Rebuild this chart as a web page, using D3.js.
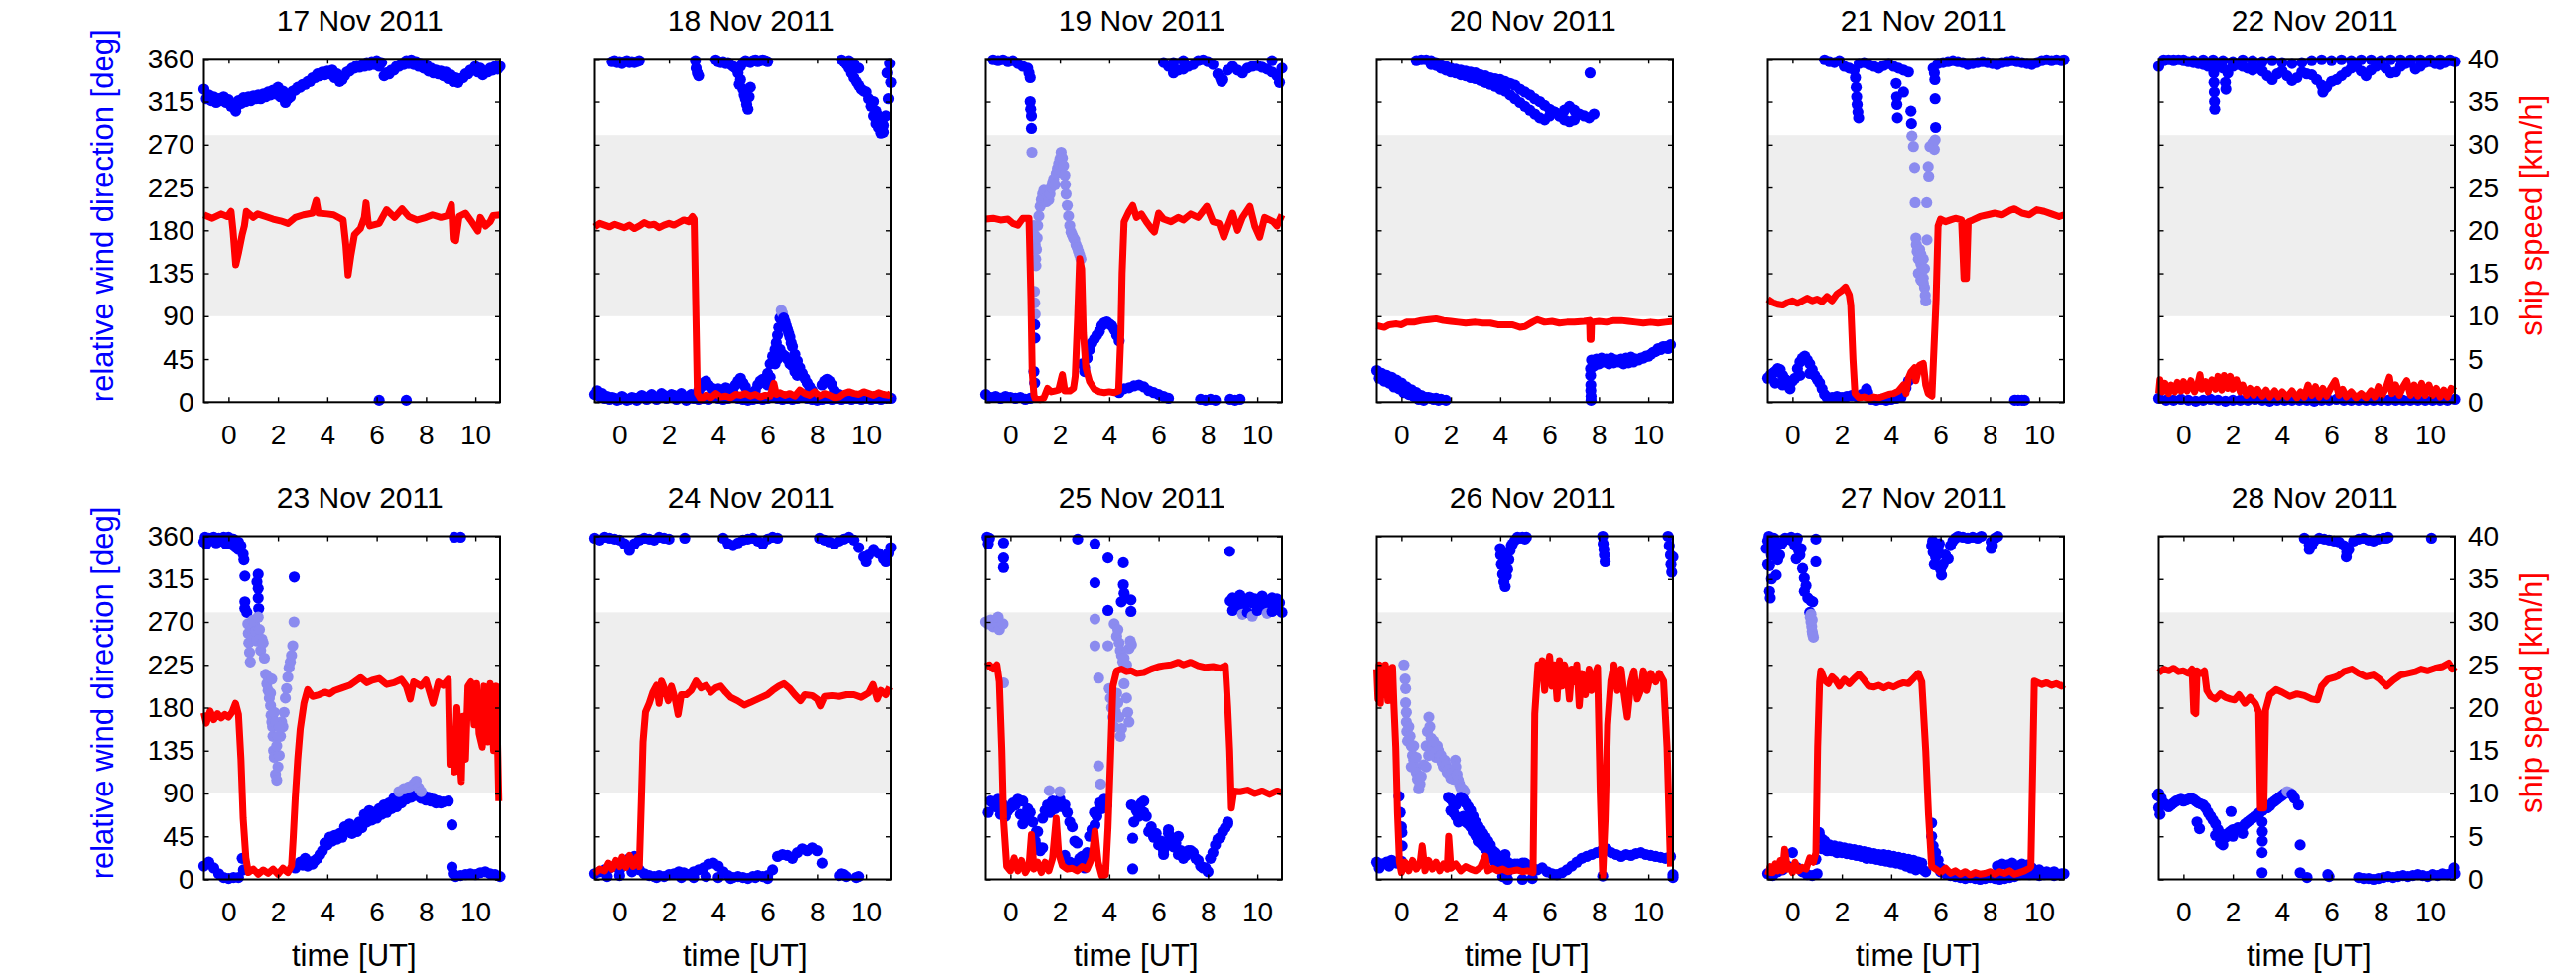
<!DOCTYPE html>
<html><head><meta charset="utf-8">
<script src="https://cdn.jsdelivr.net/npm/d3@7"></script>
<style>body{margin:0;background:#fff}</style>
</head><body>
<svg id="c" width="2596" height="984"></svg>
<script>
// ---------- labels / ticks ----------
const days = ["17 Nov 2011","18 Nov 2011","19 Nov 2011","20 Nov 2011","21 Nov 2011","22 Nov 2011",
              "23 Nov 2011","24 Nov 2011","25 Nov 2011","26 Nov 2011","27 Nov 2011","28 Nov 2011"];
const timeTicks = [0,2,4,6,8,10];
const dirTicks = [0,45,90,135,180,225,270,315,360];
const speedTicks = [0,5,10,15,20,25,30,35,40];
const shadedBand = [90,280];
const leftLabel = "relative wind direction [deg]";
const rightLabel = "ship speed [km/h]";
const xLabel = "time [UT]";

// ---------- relative wind direction (deg) : [t,v] points or [t0,dt,[values]] runs ----------
const wind17 = [
 [-1.0,0.2,[328,322,320,318,320,317,312,316,319,320,321,322,323,325,327,330,326,318,326,330,333,336,340,344,346,347,348,344,338,346,350,353,354,356,357,358,356,345,348,352,355,358,359,357,355,354,350,348,347,346,343,340,339,344,348,352,350,346,350,352,352]],
 [-0.9,0.2,[318,316,314,316,314,310,308,313,315,316,318,318,320,322,323,320,314,320,327,330,333,336,340,342,343,344,340,336,342,347,350,351,352,353,354,352,342,344,348,352,354,355,354,352,350,347,345,344,342,339,336,335,340,344,348,346,343,346,348,349]],
 [0.29,305],[6.1,2],[7.2,2]
];
const wind18 = [
 [-1.0,0.2,[8,6,4,3,4,3,4,3,4,5,5,6,5,6,7,6,7,6,5,6,4,3,4,3,5,4,3,4,5,4,3,2,3,4,3,4,5,4,3,4,3,4,5,4,3,2,3,4,3,4,3,4,3,4,3,4,3,4,3,4,4]],
 [-0.9,0.2,[12,9,6,5,2,6,2,5,2,7,3,8,3,9,4,8,3,9,2,8]],
 [3.2,0.1,[12,16,20,22,18,15,14,12,14,10,12,15,14,12,10,18,22,25,20,16,10,8,6,12,18,22,24,20,18,26]],
 [6.0,30],[6.1,40],[6.2,48],[6.3,55],[6.35,62],[6.4,70],[6.45,78],[6.5,88],[6.55,96],[6.6,93],[6.65,88],[6.7,84],[6.75,80],[6.8,76],[6.85,72],[6.9,68],[6.95,62],[7.0,58],[7.1,50],[7.2,43],[7.3,36],[7.4,30],[7.5,25],[7.6,20],[7.7,16],[7.8,12],
 [6.5,55],[6.6,50],[6.7,48],[6.8,45],[6.9,40],[7.0,38],[7.1,32],[7.2,28],[6.4,45],[6.3,40],
 [8.2,18],[8.3,22],[8.4,24],[8.5,22],[8.6,18],[8.7,12],[8.9,8],[9.0,6],
 [-0.3,0.1,[357,358,356,357,355,357,358,356,357,356,357,358]],
 [3.07,358],[3.1,350],[3.15,345],[3.2,342],
 [3.9,0.1,[359,357,356,357,355,356,354,352,350,350,352,356,358,357,356,358,359,357,358,359,358,357]],
 [4.8,345],[4.85,333],[4.9,338],[5.0,328],[5.05,322],[5.1,318],[5.15,312],[5.2,307],[5.25,320],[5.3,330],
 [9.0,0.1,[359,357,354,350,345,340,336,332,328,326,325,318,310,300,292,288,284,290,300,318,335]],
 [9.3,358],[9.5,355],[9.7,350],[10.3,315],[10.4,305],[10.5,300],[10.6,282],[10.7,283],[10.65,295],[10.85,345],[10.95,355]
];
const wind19 = [
 [-1.0,0.2,[8,5,6,4,6,5,4,5,3,4]],
 [-0.7,0.2,[359,358,359,357,358,355,352,350]],
 [0.75,345],[0.8,340],[0.8,315],[0.82,307],[0.85,300],[0.85,287],[0.87,262],
 [0.95,185],[0.98,175],[1.0,165],[1.02,150],[1.03,143],[1.05,160],[1.08,172],[1.1,185],[1.15,195],[1.2,205],[1.25,212],[1.3,218],[1.35,222],[1.4,220],[1.45,210],[1.5,215],[1.55,212],[1.6,218],[1.65,225],[1.7,230],[1.75,234],[1.8,228],[1.85,240],[1.9,245],[1.95,250],[2.0,255],[2.05,262],[2.1,256],[2.15,248],[2.2,238],[2.22,228],[2.25,218],[2.3,206],[2.35,195],[2.4,185],[2.45,178],[2.5,175],[2.55,172],[2.6,170],[2.65,165],[2.7,162],[2.75,158],[2.8,154],[2.85,150],[0.97,116],[0.98,104],[1.0,92],
 [0.98,81],[0.99,67],[0.95,32],[0.98,20],
 [2.9,0.1,[40,36,46,55,62,66,70,74,80,83,84,82,80,76,70,64]],
 [3.0,32],[3.1,46],
 [4.4,0.2,[10,14,15,17,18,16,12,10,8,6,4]],
 [7.7,3],[7.9,2],[8.1,3],[8.3,2],[8.9,3],[9.1,2],[9.3,3],
 [6.2,0.2,[356,352,345,348,349,352,354,358,359,357,354,344,338,348,352,348,345,350,352,353,351,349,346,342,350]],
 [8.5,340],[8.55,336],[6.6,356],[7.0,358],[10.6,358],[10.9,335]
];
const wind20 = [
 [0.6,0.2,[358,359,359,358,356,354,352,350,349,348,347,346,345,343,342,340,339,338,336,334,332,328,325,322,318,315,311,307,304,300,306,310,306,302,300,298,302]],
 [1.2,0.2,[354,353,350,348,346,345,343,342,340,339,337,335,333,331,328,326,322,318,314,310,306,302,298,296,300,304,300,296,294,296]],
 [7.64,345],
 [-1.0,0.2,[33,30,28,26,23,20,16,13,10,7,5,4,4,3,2]],
 [-0.9,0.2,[25,22,20,16,14,10,8,6,3,2,5,3,2]],
 [7.7,0.2,[44,45,46,45,46,44,45,46,47,45,46,48,50,53,55,58,60]],
 [7.8,0.2,[38,40,42,40,41,42,40,41,42,44,46,48,52,56,58,56]],
 [7.66,35],[7.66,28],[7.67,18],[7.67,12],[7.68,6],[7.68,2]
];
const wind21 = [
 [1.3,0.2,[359,357,356,358,352,350,348,355,356,354,352,350,353,355,352,350,348,346]],
 [5.7,0.2,[350,355,356,357,358,357,356,354,355,356,357,356,355,354,356,357,358,357,356,355,354,356,358,359,358,359]],
 [10.9,358],[11.0,359],
 [2.55,340],[2.58,330],[2.6,320],[2.62,312],[2.65,304],[2.68,298],[4.2,334],[4.22,320],[4.23,312],[4.25,298],[4.5,325],[4.8,305],[4.82,292],[5.77,338],[5.78,318],[5.8,288],[5.75,345],
 [4.84,279],[4.9,268],[4.95,246],[4.97,209],[5.44,209],[5.5,247],[5.52,237],[5.57,268],[5.7,272],[5.75,265],[5.78,275],[5.0,172],[5.02,165],[5.05,158],[5.1,150],[5.15,160],[5.2,145],[5.25,140],[5.3,130],[5.35,120],[5.38,112],[5.4,106],[5.1,135],[5.2,155],[5.3,150],[5.45,170],[5.3,125],[5.35,140],[5.2,128],
 [-1.0,25],[-0.9,28],[-0.8,30],[-0.7,32],[-0.6,35],[-0.5,34],[-0.4,28],[-0.3,24],[-0.2,22],[-0.1,20],[0.0,22],[0.1,25],[0.2,35],[0.3,42],[0.4,46],[0.5,48],[0.6,44],[0.7,40],[0.8,34],[0.9,28],[1.0,24],[1.1,20],[1.2,14],[1.3,8],[1.4,5],[1.6,5],[1.8,6],[2.0,5],[2.2,6],[2.4,7],[2.6,6],[2.8,8],[3.0,14],[3.05,10],[3.2,3],[3.4,2],[3.6,3],[3.8,2],[4.0,3],[4.2,4],[4.4,5],[4.6,15],[4.7,22],[-0.7,20],[-0.4,18],[-0.1,14],[0.3,28],[0.7,30],[9.0,2],[9.15,2],[9.3,2],[9.4,2]
];
const wind22 = [
 [-1.0,0.2,[352,358,359,358,359,358,357,356,355,354,352,350,355,350,345,352,354,352,350,348,350,347,342,338,344,347,342,337,340,346,344,343,338,332,330,336,338,342,346,350,352,347,342,348,352,354,350,345,346,352,355,356,349,352,356,357,355,354,356,358,357]],
 [-0.8,0.4,[359,359,359,358,359,359,358,357,359,358,357,358,356,355,356,358,359,358,359,358,359,359,358,359,359,359,359,359,359,359]],
 [1.23,345],[1.24,335],[1.25,325],[1.26,315],[1.27,307],[1.7,335],[1.72,328],[5.7,328],[5.65,325],
 [-1.0,0.3,[4,2,2,3,2,1,2,3,2,1,2,2,2,3,2,1,2,2,2,2,2,1,2,2,3,2,2,2,2,2,2,2,2,2,2,2,2,2,2,2,3]]
];
const wind23 = [
 [-1.0,0.1,[354,352,356,358,355,353,357,356,354,352,355,354,350,348,346]],
 [-0.95,359],[-0.8,358],[-0.6,359],[-0.4,358],[-0.2,359],[0.0,359],[0.2,357],[0.4,354],[0.5,350],[0.59,341],[0.62,335],[0.66,318],[0.66,291],[0.66,284],[1.2,320],[1.2,305],[1.2,295],[1.22,284],[1.15,312],[2.66,317],[9.15,359],[9.4,359],
 [0.74,280],[0.78,268],[0.8,258],[0.82,248],[0.85,238],[0.88,228],[0.92,262],[0.95,255],[1.0,272],[1.05,268],[1.1,260],[1.15,250],[1.2,275],[1.25,262],[1.3,240],[1.35,252],[1.4,248],[1.45,232],[1.5,215],[1.55,205],[1.6,198],[1.65,190],[1.7,182],[1.72,172],[1.75,165],[1.78,160],[1.8,150],[1.82,135],[1.85,128],[1.9,110],[1.95,104],[2.0,118],[2.05,130],[2.1,150],[2.15,165],[2.2,160],[2.25,175],[2.3,190],[2.35,200],[2.4,212],[2.45,222],[2.5,228],[2.55,235],[2.6,245],[2.65,270],[1.6,212],[1.7,195],[1.75,210],[1.85,175],[1.9,165],[2.0,150],[2.05,160],[1.95,140],
 [-1.0,0.2,[14,18,12,6,2,1,2,2]],[0.55,22],[0.6,10],
 [2.7,0.2,[12,18,22,18,20,26,38,44,46,48,55,58,52,60,68,72,70,74,78,80,85,88,90,92,95,93,88,86,84,82,81,82]],
 [3.0,0.2,[15,14,16,22,30,36,40,42,44,50,48,50,54,60,62,64,68,70,74,76,80,84,86,88,85,83,82,80,80]],
 [6.9,92],[7.1,95],[7.3,97],[7.5,100],[7.6,103],[7.7,96],[7.8,92],
 [9.05,57],[9.05,13],[9.1,6],
 [9.2,0.2,[3,4,5,6,5,7,8,6,5,3]]
];
const wind24 = [
 [-1.0,0.2,[358,356,359,358,357,356,352,345,352,356,358,357,356,359,358,357]],
 [2.64,358],
 [4.2,0.2,[358,352,350,353,356,357,358,355,352,357,359,358]],
 [8.1,0.2,[358,356,354,352,355,357,359,356,348,338,340,346,342,336,342]],
 [11.0,348],[10.0,333],[10.8,333],
 [-1.0,0.2,[6,8,10,12,14,10,18,22,24,10,6,4,3,4,3,5,6,8,7,5,8,10,12,16,17,14,8,4,2,3,2,1,3,4,3,4,10,24,26,25,22,28,32,30,33,30,17]],
 [8.9,4],[9.0,6],[9.1,5],[9.2,3],[9.6,2],[9.7,3],[3.0,2],[3.5,3],[4.0,2],[4.5,1],[5.5,2],[6.0,1],[-0.5,3],[0.0,4],[0.5,8],[1.5,2],[2.5,2]
];
const wind25 = [
 [-0.9,0.2,[70,80,84,78,72,80,84,82,74,60,50,64,78,82,80,76,70,55,38,24,28,52,66,74,78]],
 [-0.8,0.2,[82,76,68,66,75,78,68,62,70,40,30,72,70,74,84,78,60,40,22,18,45,70,80,84]],
 [1.0,32],[1.1,34],[1.3,33],[1.05,50],[2.4,18],[2.6,16],[2.8,20],[3.42,57],[3.0,12],[2.2,25],[0.5,58],[0.6,66],
 [4.9,0.2,[78,72,80,66,55,48,40,35,42,38,30,25,30,22,14,12,22,36,44,54]],[8.8,58],
 [5.0,0.2,[60,66,70,50,44,36,30,48,34,26,22,30,28,20,12,8,28,42,50,60]],
 [4.95,43],[4.95,11],[5.4,82],[6.2,26],[6.4,52],[6.8,45],
 [8.9,0.1,[292,295,290,294,298,291,288,293,296,290,294,289,292,297,290,288,293,295,291,294,290]],
 [9.0,0.2,[282,284,278,280,276,282,284,279,281,283,280]],
 [-0.95,359],[-0.9,352],[-0.85,358],[-0.28,353],[-0.28,337],[-0.28,327],[2.72,357],[3.42,352],[3.95,337],[4.57,332],[3.42,311],[4.57,309],[4.49,291],[3.95,282],[4.88,293],[4.88,281],[8.88,344],[4.6,300],[4.65,295],
 [-1.0,270],[-0.9,268],[-0.8,272],[-0.7,265],[-0.6,270],[-0.5,275],[-0.45,262],[-0.3,268],[-0.28,206],[3.42,273],[3.42,245],[3.95,245],[3.57,211],[4.2,268],[4.3,255],[4.35,262],[4.4,248],[4.45,240],[4.5,235],[4.55,228],[4.6,232],[4.7,225],[4.8,242],[4.85,250],[4.9,246],[4.0,200],[4.05,190],[4.1,180],[4.15,170],[4.2,160],[4.25,176],[4.3,195],[4.35,185],[4.4,170],[4.5,158],[4.45,150],[4.6,205],[4.7,190],[4.75,175],[4.8,165],[3.57,119],[3.65,100],[1.57,93],[2.0,92]
];
const wind26 = [
 [-1.0,0.2,[18,16,18,20,17,19]],[-0.9,12],[-0.5,14],
 [-0.1,87],[-0.05,70],[0.0,55],[0.02,49],[0.03,35],
 [0.1,225],[0.15,210],[0.17,200],[0.17,185],[0.2,175],[0.2,165],[0.22,155],[0.25,145],[0.3,160],[0.35,150],[0.4,140],[0.45,130],[0.5,125],[0.55,118],[0.6,112],[0.65,105],[0.7,95],[0.75,100],[0.8,108],[0.9,120],[1.0,140],[1.05,155],[1.11,170],[1.15,160],[1.2,148],[1.25,140],[1.3,145],[1.35,135],[1.4,128],[1.45,140],[1.5,135],[1.55,128],[1.6,130],[1.65,122],[1.7,118],[1.75,125],[1.8,120],[1.85,112],[1.9,115],[1.95,110],[2.0,106],[2.05,112],[2.1,105],[2.18,125],[2.2,118],[2.25,110],[2.3,104],[2.35,100],[2.4,96],[2.45,95],[2.5,94],[2.55,92],[0.5,140],[0.6,128],[0.4,118],[1.0,118],[1.1,130],
 [1.9,0.1,[86,84,80,78,82,86,84,80,76,72,66,60,56,52,48,44,40,36,30,28,25,22,20,26,18,16,15]],
 [2.0,0.1,[72,70,66,60,64,66,60,58,55,50,46,40,38,35,32,30,26,22,18,16,14,12,10,8]],
 [4.5,0.2,[14,16,17,15,12,10,12,8,6,5,7,10,14,18,22,24,26,28,30,32,28,26,24,26,25,27,28,26,25,24,23,22,24]],
 [11.0,5],[4.1,3],[4.3,0],[4.9,0],[5.3,1],[8.15,3.5],[11.0,2],[4.6,16],[5.0,17],
 [4.0,347],[4.02,340],[4.05,330],[4.1,320],[4.15,312],[4.2,307],[4.25,318],[4.3,325],[4.35,335],[4.4,345],[4.5,352],[4.6,356],[4.7,359],[4.8,358],[4.9,359],[5.0,357],[5.06,359],[4.45,350],[4.2,340],
 [8.15,360],[8.17,352],[8.2,346],[8.22,340],[8.25,333],[10.8,360],[10.85,350],[10.9,340],[10.92,330],[10.95,322],[11.0,338]
];
const wind27 = [
 [-1.0,0.2,[6,4,8,10,14,28,12,8,5,4,6]],
 [-1.06,347],[-1.0,355],[-0.95,360],[-0.93,329],[-0.93,302],[-0.9,295],[-0.85,340],[-0.8,350],[-0.75,358],[-0.66,319],[-0.6,335],[-0.52,340],[-0.45,352],[-0.39,354],[-0.3,358],[-0.2,357],[-0.12,357],[-0.05,359],[0.0,355],[0.1,350],[0.15,354],[0.15,336],[0.25,345],[0.35,347],[0.41,326],[0.48,316],[0.48,302],[0.55,308],[0.62,295],[0.75,292],[0.82,291],[0.95,357],[0.95,333],[-0.85,315],[-1.0,330],[-0.7,345],[0.2,358],[0.3,340],
 [0.7,280],[0.72,275],[0.75,270],[0.78,265],[0.8,260],[0.82,257],[0.85,254],[0.8,272],[0.75,278],
 [1.1,0.2,[45,40,36,35,34,33,32,31,30,29,28,27,26,26,25,24,23,22,21,20,18]],
 [1.2,0.2,[32,30,30,28,28,27,26,25,24,22,22,21,20,19,18,17,16,14,12,10]],
 [1.08,49],[1.2,42],[5.24,17],[5.3,10],[5.4,8],[5.64,59],[5.64,45],[5.7,35],[5.8,28],[5.9,20],[6.0,12],[0.95,21],
 [6.0,0.2,[8,6,4,3,2,1,2,1,0,1,2,1,0,1,2,3,5,6,5,6,4,5,6,4,5,6]],
 [8.3,14],[8.5,16],[8.7,15],[8.9,17],[9.1,14],[9.3,16],[9.5,15],[9.7,12],[10.0,10],[10.3,8],[10.6,8],[10.9,6],
 [5.64,350],[5.7,343],[5.75,330],[5.8,338],[5.9,346],[6.0,325],[6.04,319],[6.1,330],[6.2,340],[6.31,336],[6.4,350],[6.5,355],[6.6,358],[6.71,360],[6.9,359],[7.1,358],[7.3,359],[7.5,358],[7.65,360],[8.05,354],[8.05,347],[8.1,350],[8.32,360],[8.2,358],[5.68,355],[5.95,352]
];
const wind28 = [
 [-1.0,0.1,[90,85,80,78,76,78,80,82,83,84,82,83,84,85,84,82,80,79,78,75,70,66,62,58,52,48,45,44,48,50,52,52,54,52,55,58,60,62,64,66,68,70,72,74,75,77,80,82,84,86,88,90,92,91,89,85]],
 [-1.05,88],[-1.0,75],[-0.95,68],[0.55,60],[0.65,53],[1.3,46],[1.5,38],[1.6,36],[1.93,71],[3.19,60],[3.2,50],[3.2,40],[3.19,28],[3.19,7],[4.66,78],[4.73,36],[4.73,7],[5.01,2],[5.85,5],[5.9,3],[2.4,48],[2.0,45],
 [7.1,0.2,[2,1,1,0,1,2,3,2,3,4,3,4,5,4,3,5,4,6,5,7]],[10.96,12],[11.0,6],
 [4.9,0.2,[358,351,355,358,357,356,355,354,350,346,355,357,358,356,355,357,358]],
 [6.62,343],[6.6,338],[6.65,348],[8.23,358],[8.3,359],[10.05,358],[5.1,346],[5.2,350]
];

// ---------- ship speed (km/h) : [t, v] ----------
const ship17 = [[-1.0,21.8],[-0.66,21.4],[-0.3,21.9],[-0.05,21.6],[0.1,22.2],[0.18,20],[0.29,16],[0.41,17.5],[0.55,19.5],[0.64,20.5],[0.72,22.2],[1.0,21.5],[1.18,21.9],[1.5,21.6],[1.8,21.3],[2.1,21.1],[2.41,20.8],[2.7,21.5],[3.03,21.8],[3.4,22],[3.55,23.5],[3.64,22],[4.0,21.9],[4.26,21.8],[4.64,21.2],[4.75,18.3],[4.84,14.8],[4.95,17],[5.1,19.5],[5.34,20.2],[5.5,21.5],[5.57,23.2],[5.65,21],[5.72,20.5],[6.1,20.8],[6.4,22.4],[6.72,21.5],[7.03,22.5],[7.3,21.6],[7.64,21.2],[8.0,21.5],[8.26,21.8],[8.6,21.5],[8.87,21.7],[9.03,23],[9.1,19],[9.2,18.8],[9.34,21.6],[9.6,22],[9.8,21.2],[10.1,19.9],[10.2,21.5],[10.41,20.5],[10.6,21],[10.72,21.7],[11.0,21.8]];
const ship18 = [[-1.0,20.4],[-0.8,20.8],[-0.6,20.6],[-0.4,20.4],[-0.2,20.7],[0.0,20.5],[0.2,20.3],[0.4,20.6],[0.6,20.2],[0.8,20.5],[1.0,20.9],[1.2,20.6],[1.4,20.7],[1.6,20.3],[1.8,20.6],[2.0,20.8],[2.2,20.6],[2.4,20.9],[2.6,21.2],[2.8,21.0],[2.95,21.6],[3.02,21.3],[3.08,12],[3.15,1.0],[3.3,0.3],[3.5,0.8],[3.7,0.5],[3.9,1.0],[4.1,0.6],[4.3,0.7],[4.5,0.5],[4.7,0.9],[4.9,0.8],[5.1,1.0],[5.3,0.7],[5.5,0.9],[5.7,0.6],[5.9,0.8],[6.1,0.7],[6.25,2.2],[6.35,0.9],[6.5,1.1],[6.7,0.8],[6.9,1.0],[7.1,0.7],[7.3,1.4],[7.5,1.0],[7.7,0.8],[7.9,1.2],[8.1,0.7],[8.3,1.0],[8.5,0.8],[8.7,0.5],[8.9,0.6],[9.1,1.0],[9.3,1.2],[9.5,1.0],[9.7,0.9],[9.9,1.2],[10.1,1.0],[10.3,0.8],[10.5,1.1],[10.7,0.9],[10.9,0.8],[11.0,1.0]];
const ship19 = [[-1.0,21.3],[-0.7,21.4],[-0.4,21.2],[-0.1,21.3],[0.1,20.8],[0.3,20.6],[0.5,21.4],[0.75,21.4],[0.83,12],[0.88,3.5],[0.95,0.8],[1.0,0.4],[1.2,0.3],[1.35,0.5],[1.5,1.6],[1.65,1.2],[1.8,1.3],[1.95,1.4],[2.1,3.2],[2.2,1.3],[2.4,1.3],[2.55,1.6],[2.62,3],[2.72,10],[2.8,16.7],[2.88,15.5],[2.95,8],[3.05,4],[3.2,2.4],[3.4,1.5],[3.6,1.2],[3.8,1.1],[4.0,1.2],[4.2,1.1],[4.38,1.3],[4.47,8],[4.52,15],[4.6,21.0],[4.8,22.2],[4.95,22.9],[5.1,21.5],[5.3,21.9],[5.5,21.0],[5.7,20.2],[5.83,19.8],[6.0,22.0],[6.2,21.3],[6.5,21.0],[6.8,21.5],[7.0,21.2],[7.3,21.9],[7.6,21.5],[7.95,22.8],[8.2,21.0],[8.45,20.8],[8.64,19.2],[8.8,20.5],[9.0,22.0],[9.2,20.0],[9.4,21.5],[9.7,22.8],[9.9,20.5],[10.1,19.2],[10.3,21.5],[10.65,21.0],[10.8,20.5],[11.0,21.8]];
const ship20 = [[-1.0,8.9],[-0.7,8.7],[-0.5,9.0],[-0.2,9.1],[0.0,9.0],[0.2,9.3],[0.5,9.3],[0.8,9.5],[1.1,9.6],[1.4,9.7],[1.7,9.5],[2.0,9.4],[2.3,9.3],[2.6,9.2],[3.0,9.3],[3.3,9.2],[3.6,9.2],[3.9,9.0],[4.2,9.0],[4.5,9.0],[4.8,8.7],[5.0,8.8],[5.3,9.3],[5.5,9.6],[5.8,9.3],[6.1,9.4],[6.4,9.2],[6.7,9.3],[7.0,9.3],[7.4,9.4],[7.62,9.5],[7.64,7.3],[7.68,7.3],[7.7,9.3],[8.0,9.4],[8.3,9.3],[8.6,9.5],[8.9,9.5],[9.2,9.4],[9.5,9.3],[9.8,9.2],[10.1,9.3],[10.4,9.2],[10.7,9.3],[11.0,9.4]];
const ship21 = [[-1.0,12.0],[-0.8,11.6],[-0.6,11.4],[-0.4,11.3],[-0.2,11.6],[0.0,11.8],[0.2,11.5],[0.4,11.8],[0.6,12.1],[0.8,11.8],[1.0,12.0],[1.2,11.7],[1.4,12.3],[1.6,11.8],[1.8,12.6],[2.0,13.0],[2.15,13.4],[2.3,12.5],[2.36,11.3],[2.45,5],[2.53,1.0],[2.7,0.5],[2.9,0.6],[3.1,0.4],[3.3,0.6],[3.5,0.5],[3.7,0.7],[3.9,0.9],[4.1,1.0],[4.3,1.3],[4.5,2.0],[4.6,1.0],[4.7,2.8],[4.8,3.5],[4.95,4.0],[5.0,2.5],[5.15,4.3],[5.3,4.5],[5.4,2],[5.5,1.0],[5.65,0.7],[5.82,12],[5.9,20.5],[6.0,21.3],[6.2,21.0],[6.4,21.2],[6.6,21.4],[6.85,21.2],[6.95,14.4],[7.05,14.4],[7.12,21.0],[7.3,21.2],[7.6,21.6],[7.9,21.8],[8.2,22.0],[8.5,21.8],[8.8,22.3],[9.0,22.5],[9.3,22.0],[9.6,21.8],[9.9,22.4],[10.2,22.2],[10.5,21.9],[10.8,21.6],[11.0,21.8]];
const ship22 = [[-1.0,1.0],[-0.95,2.6],[-0.85,1.2],[-0.75,2.2],[-0.6,1.0],[-0.5,2.0],[-0.35,1.2],[-0.25,2.3],[-0.1,1.3],[0.0,2.4],[0.15,1.3],[0.3,2.5],[0.45,1.2],[0.6,2.3],[0.67,3.2],[0.75,1.5],[0.9,2.4],[1.0,1.2],[1.15,2.6],[1.3,1.5],[1.4,3.0],[1.55,1.4],[1.65,3.1],[1.8,1.6],[1.9,3.0],[2.0,1.5],[2.15,2.6],[2.3,1.2],[2.4,2.0],[2.55,0.8],[2.7,1.6],[2.85,0.8],[3.0,1.5],[3.2,0.7],[3.35,1.4],[3.5,0.6],[3.7,1.3],[3.85,0.6],[4.0,1.2],[4.2,0.6],[4.4,1.3],[4.6,0.5],[4.75,1.2],[4.9,0.6],[5.05,2.0],[5.2,0.8],[5.35,1.8],[5.5,0.6],[5.65,1.6],[5.8,0.7],[6.0,1.8],[6.15,2.5],[6.3,0.8],[6.45,1.5],[6.6,0.6],[6.8,1.2],[7.0,0.5],[7.2,1.0],[7.4,0.5],[7.6,1.3],[7.75,0.6],[7.9,1.8],[8.05,0.8],[8.2,1.6],[8.35,2.9],[8.45,1.0],[8.6,2.0],[8.75,0.8],[8.9,1.8],[9.05,2.5],[9.2,0.8],[9.35,2.0],[9.5,0.7],[9.65,2.2],[9.8,0.8],[9.95,2.0],[10.1,0.8],[10.25,1.6],[10.4,0.6],[10.55,1.4],[10.7,0.6],[10.85,1.6],[11.0,1.3]];
const ship23 = [[-1.0,19.4],[-0.9,18.2],[-0.75,19.6],[-0.6,18.6],[-0.45,19.3],[-0.3,18.8],[-0.15,19.2],[0.0,18.9],[0.15,19.5],[0.28,20.5],[0.4,19.2],[0.5,14],[0.59,7.1],[0.7,2.5],[0.8,0.8],[1.0,1.2],[1.2,0.6],[1.4,1.1],[1.6,0.7],[1.8,1.2],[2.0,0.6],[2.2,1.3],[2.4,0.8],[2.55,1.6],[2.62,5],[2.7,9.5],[2.8,14],[2.9,17.5],[3.05,20.5],[3.2,22.1],[3.4,21.3],[3.66,21.5],[3.9,21.8],[4.1,21.6],[4.3,22.0],[4.6,22.3],[4.9,22.6],[5.1,23.0],[5.35,23.5],[5.6,22.9],[5.82,23.2],[6.1,23.4],[6.4,22.7],[6.7,22.9],[7.0,23.3],[7.2,22.5],[7.36,21.0],[7.5,23.0],[7.8,22.5],[8.0,23.2],[8.28,20.5],[8.5,23.0],[8.7,22.6],[8.9,23.3],[8.97,13.4],[9.05,17],[9.15,12.5],[9.25,20],[9.35,15],[9.43,11.4],[9.5,19],[9.6,14],[9.7,22.5],[9.82,23.0],[9.95,18],[10.05,22.8],[10.15,17],[10.28,15.4],[10.35,22.5],[10.5,16],[10.6,22.8],[10.74,15],[10.85,22.5],[10.95,9.1]];
const ship24 = [[-1.0,0.7],[-0.8,1.2],[-0.6,1.0],[-0.45,1.9],[-0.3,1.2],[-0.15,2.2],[0.0,1.5],[0.1,2.6],[0.25,1.4],[0.4,2.8],[0.55,1.5],[0.7,2.6],[0.8,1.5],[0.88,9],[0.95,16],[1.05,19.5],[1.2,20.5],[1.35,21.8],[1.5,22.6],[1.6,20.5],[1.7,23.1],[1.85,22],[1.97,20.8],[2.1,22.5],[2.25,21],[2.37,19.2],[2.5,21.5],[2.7,21.5],[2.9,22],[3.1,23.1],[3.3,22.3],[3.5,22.6],[3.7,21.8],[3.9,22.3],[4.1,22.5],[4.3,21.8],[4.5,21.2],[4.78,20.8],[5.05,20.3],[5.3,20.6],[5.6,21.0],[5.99,21.5],[6.2,22],[6.45,22.5],[6.66,22.8],[6.9,22.2],[7.1,21.5],[7.33,20.8],[7.5,21.5],[7.8,21.4],[8.0,21.0],[8.13,20.2],[8.3,21.3],[8.6,21.4],[8.9,21.3],[9.2,21.5],[9.5,21.5],[9.8,21.2],[10.1,21.7],[10.28,22.7],[10.45,21.0],[10.6,22.0],[10.8,21.5],[10.95,22.4]];
const ship25 = [[-1.0,24.8],[-0.85,25.0],[-0.7,24.5],[-0.55,25.0],[-0.45,23],[-0.35,15],[-0.28,7],[-0.15,1.5],[0.0,1.0],[0.15,2.5],[0.3,1.0],[0.45,2.2],[0.6,0.8],[0.75,1.5],[0.85,5.2],[0.95,1.2],[1.1,2.0],[1.25,0.8],[1.4,2.0],[1.55,1.0],[1.7,2.4],[1.85,7.1],[1.95,3.0],[2.1,1.6],[2.3,1.2],[2.5,1.3],[2.7,1.0],[2.9,1.5],[3.1,1.2],[3.3,2.5],[3.42,5.6],[3.55,2],[3.7,0.4],[3.85,0.5],[3.95,6],[4.05,14],[4.15,22.5],[4.3,24.3],[4.5,24.5],[4.7,24.2],[4.9,24.3],[5.1,24.0],[5.4,24.1],[5.7,24.5],[6.0,24.8],[6.2,24.9],[6.5,25.0],[6.8,25.3],[7.0,25.0],[7.3,25.3],[7.6,24.9],[7.9,24.7],[8.2,24.8],[8.5,24.6],[8.7,24.9],[8.8,20],[8.88,15],[8.95,8.3],[9.05,10.3],[9.3,10.2],[9.6,10.4],[9.9,10.0],[10.2,10.3],[10.5,9.9],[10.8,10.3],[11.0,10.1]];
const ship26 = [[-1.0,24.5],[-0.95,21],[-0.9,25.0],[-0.85,20.5],[-0.8,24.8],[-0.7,21.5],[-0.65,25],[-0.55,20.8],[-0.5,24.5],[-0.42,22],[-0.36,24.7],[-0.3,20],[-0.23,15.4],[-0.16,7.7],[-0.08,2],[0.0,0.8],[0.15,2.0],[0.3,1.0],[0.45,2.2],[0.6,1.2],[0.75,1.8],[0.84,3.9],[0.95,1.0],[1.1,2.2],[1.25,1.2],[1.4,2.0],[1.55,1.0],[1.7,1.8],[1.85,1.2],[1.91,5.0],[2.0,1.3],[2.2,1.8],[2.4,1.0],[2.6,1.5],[2.8,1.2],[3.0,1.0],[3.2,1.4],[3.39,2.7],[3.5,1.0],[3.7,1.3],[3.9,1.0],[4.1,1.2],[4.3,0.9],[4.5,1.0],[4.7,1.1],[4.9,0.9],[5.1,1.0],[5.33,0.8],[5.4,19.3],[5.53,25],[5.6,23.5],[5.7,25.5],[5.8,22],[5.9,24.5],[6.0,26],[6.1,22.5],[6.2,25],[6.3,21],[6.4,25.5],[6.5,22.5],[6.6,25],[6.7,24],[6.8,21],[6.9,24.5],[7.0,23],[7.1,25],[7.2,20.2],[7.3,24],[7.45,21.5],[7.6,24.5],[7.7,22],[7.8,23.5],[7.94,24.7],[8.05,10],[8.15,0.4],[8.25,7],[8.35,18],[8.48,23.1],[8.61,25],[8.75,22],[8.9,24.5],[9.0,22],[9.15,18.9],[9.3,23],[9.42,24.3],[9.55,21],[9.69,22],[9.8,24.3],[9.95,22],[10.1,24],[10.3,23],[10.45,24],[10.62,23.1],[10.76,15.4],[10.9,1.5]];
const ship27 = [[-1.0,0.5],[-0.9,1.5],[-0.8,0.8],[-0.7,1.8],[-0.6,1.0],[-0.5,2.2],[-0.4,1.0],[-0.32,3.5],[-0.2,1.2],[-0.1,1.5],[0.0,0.8],[0.1,2.0],[0.25,1.0],[0.4,1.4],[0.55,1.2],[0.7,2.5],[0.85,2.0],[0.95,3.1],[1.02,15.4],[1.1,23.0],[1.15,24.3],[1.3,23.2],[1.45,22.8],[1.6,23.6],[1.75,23.2],[1.9,22.5],[2.1,23.3],[2.3,22.8],[2.5,23.4],[2.69,23.9],[2.9,23.2],[3.09,22.5],[3.3,22.4],[3.5,22.6],[3.7,22.3],[3.9,22.6],[4.1,22.4],[4.3,22.7],[4.5,22.9],[4.7,22.8],[4.9,23.4],[5.1,24],[5.24,23.0],[5.4,15],[5.51,7.7],[5.64,1.5],[5.8,1.2],[6.0,0.8],[6.2,1.3],[6.4,0.7],[6.6,1.0],[6.8,0.6],[7.0,0.9],[7.2,0.5],[7.4,0.8],[7.6,0.6],[7.8,0.7],[8.0,0.9],[8.2,0.6],[8.4,0.9],[8.6,0.7],[8.8,1.0],[9.0,0.6],[9.2,0.8],[9.4,1.0],[9.6,1.3],[9.66,1.5],[9.8,23.1],[9.95,22.9],[10.1,22.7],[10.3,22.9],[10.5,22.6],[10.7,22.8],[10.9,22.5],[11.0,22.7]];
const ship28 = [[-1.0,24.1],[-0.8,24.5],[-0.6,24.3],[-0.4,24.6],[-0.2,24.2],[0.0,24.3],[0.2,24.0],[0.35,24.5],[0.42,19.5],[0.5,19.3],[0.55,24.3],[0.7,24.0],[0.85,24.3],[0.95,22],[1.1,21.3],[1.3,21.0],[1.5,21.6],[1.7,21.2],[1.9,21.0],[2.07,20.9],[2.25,21.5],[2.49,20.5],[2.7,21.2],[2.91,20.5],[3.05,19.5],[3.12,8.3],[3.26,8.3],[3.33,19.7],[3.5,21.5],[3.75,22.1],[4.0,21.8],[4.31,21.3],[4.6,21.6],[4.9,21.4],[5.2,21.0],[5.43,20.9],[5.6,22.5],[5.85,23.3],[6.1,23.5],[6.27,23.7],[6.5,24.2],[6.83,24.5],[7.1,24.0],[7.4,23.6],[7.7,23.8],[7.95,23.3],[8.23,22.5],[8.5,23.2],[8.8,23.8],[9.1,24.0],[9.4,24.2],[9.63,24.5],[9.9,24.3],[10.2,24.6],[10.5,24.8],[10.75,25.2],[10.9,24.5],[11.0,24.8]];

const windSeries = [wind17,wind18,wind19,wind20,wind21,wind22,wind23,wind24,wind25,wind26,wind27,wind28];
const shipSeries = [ship17,ship18,ship19,ship20,ship21,ship22,ship23,ship24,ship25,ship26,ship27,ship28];

// ---------- layout ----------
const colLeft = [205.5, 599.5, 993.5, 1387.5, 1781.5, 2175.5];
const panelW = 298.5;
const rowTop = [59.3, 540.5];
const panelH = 346;
const FONT = "'Liberation Sans', Arial, Helvetica, sans-serif";
const BLUE = "#0000ff", LIGHT = "#8b8bef", RED = "#ff0000", BAND = "#eeeeee";

function expand(items){
  const out = [];
  for (const it of items){
    if (Array.isArray(it[2])) it[2].forEach((v,i)=>out.push([it[0]+i*it[1], v]));
    else out.push(it);
  }
  return out;
}

const svg = d3.select("#c");

days.forEach((day, i) => {
  const row = Math.floor(i/6), col = i % 6;
  const L = colLeft[col], T = rowTop[row], R = L + panelW, B = T + panelH;
  const x = d3.scaleLinear().domain([-1, 11]).range([L, R]);
  const yDir = d3.scaleLinear().domain([0, 360]).range([B, T]);
  const ySpd = d3.scaleLinear().domain([0, 40]).range([B, T]);
  const g = svg.append("g");

  g.append("rect").attr("x", L).attr("width", panelW)
    .attr("y", yDir(shadedBand[1])).attr("height", yDir(shadedBand[0]) - yDir(shadedBand[1]))
    .attr("fill", BAND);

  const pts = expand(windSeries[i]);
  g.append("g").selectAll("circle").data(pts).join("circle")
    .attr("cx", d => x(d[0])).attr("cy", d => yDir(d[1])).attr("r", 5.6)
    .attr("fill", d => (d[1] > shadedBand[0] && d[1] < shadedBand[1]) ? LIGHT : BLUE);

  g.append("path").datum(shipSeries[i])
    .attr("d", d3.line().x(d => x(d[0])).y(d => ySpd(d[1])))
    .attr("fill", "none").attr("stroke", RED).attr("stroke-width", 7)
    .attr("stroke-linejoin", "round");

  const styleAxis = (sel) => {
    sel.attr("font-family", FONT).attr("font-size", 28);
    sel.select(".domain").remove();
    sel.selectAll(".tick line").attr("stroke", "#000").attr("stroke-width", 1.4);
    sel.selectAll(".tick text").attr("fill", "#000");
  };
  g.append("g").attr("transform", `translate(0,${B})`)
    .call(d3.axisBottom(x).tickValues(timeTicks).tickSize(-5).tickPadding(23).tickFormat(d3.format("d")))
    .call(styleAxis);
  g.append("g").attr("transform", `translate(0,${T})`)
    .call(d3.axisTop(x).tickValues(timeTicks).tickSize(-5).tickFormat(""))
    .call(styleAxis);
  g.append("g").attr("transform", `translate(${L},0)`)
    .call(d3.axisLeft(yDir).tickValues(dirTicks).tickSize(-5).tickPadding(10)
      .tickFormat(col === 0 ? d3.format("d") : ""))
    .call(styleAxis);
  g.append("g").attr("transform", `translate(${R},0)`)
    .call(d3.axisRight(ySpd).tickValues(speedTicks).tickSize(-5).tickPadding(13)
      .tickFormat(col === 5 ? d3.format("d") : ""))
    .call(styleAxis);

  g.append("rect").attr("x", L).attr("y", T).attr("width", panelW).attr("height", panelH)
    .attr("fill", "none").attr("stroke", "#000").attr("stroke-width", 2);

  g.append("text").attr("x", (L + R) / 2 + 8).attr("y", T - 28.6)
    .attr("text-anchor", "middle").attr("font-family", FONT).attr("font-size", 30)
    .attr("fill", "#000").text(day);

  const cy = (T + B) / 2 - 15;
  if (col === 0) {
    g.append("text").attr("transform", `translate(114,${cy}) rotate(-90)`)
      .attr("text-anchor", "middle").attr("font-family", FONT).attr("font-size", 31)
      .attr("fill", BLUE).text(leftLabel);
  }
  if (col === 5) {
    g.append("text").attr("transform", `translate(2562,${cy}) rotate(-90)`)
      .attr("text-anchor", "middle").attr("font-family", FONT).attr("font-size", 31)
      .attr("fill", RED).text(rightLabel);
  }
  if (row === 1) {
    g.append("text").attr("x", (L + R) / 2 + 2).attr("y", 974)
      .attr("text-anchor", "middle").attr("font-family", FONT).attr("font-size", 31)
      .attr("fill", "#000").text(xLabel);
  }
});
</script>
</body></html>
